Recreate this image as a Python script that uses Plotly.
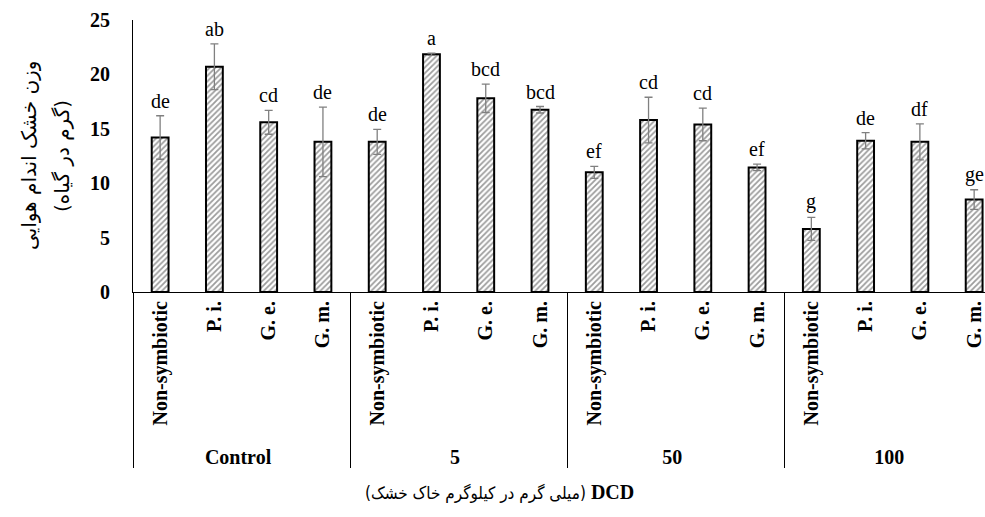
import plotly.graph_objects as go

groups = ["Control", "5", "50", "100"]
treatments = ["Non-symbiotic", "P. i.", "G. e.", "G. m."]
values = [14.2, 20.7, 15.6, 13.8,
          13.8, 21.85, 17.8, 16.75,
          11.0, 15.8, 15.4, 11.45,
          5.8, 13.9, 13.8, 8.5]
errors = [2.0, 2.1, 1.1, 3.2,
          1.15, 0.1, 1.3, 0.3,
          0.55, 2.1, 1.5, 0.3,
          1.05, 0.75, 1.65, 0.9]
letters = ["de", "ab", "cd", "de",
           "de", "a", "bcd", "bcd",
           "ef", "cd", "cd", "ef",
           "g", "de", "df", "ge"]
y_ticks = [0, 5, 10, 15, 20, 25]

x_outer = [g for g in groups for _ in treatments]
x_inner = [t for _ in groups for t in treatments]

serif = "Liberation Serif, Times New Roman, serif"

fig = go.Figure()
fig.add_trace(go.Bar(
    x=[x_outer, x_inner], y=values,
    width=0.31,
    marker=dict(color="white",
                line=dict(color="black", width=2),
                pattern=dict(shape="/", fgcolor="#3a3a3a", bgcolor="white",
                             size=4, solidity=0.45)),
    error_y=dict(type="data", array=errors, visible=True,
                 color="#808080", thickness=1.3, width=4),
    showlegend=False,
    hoverinfo="skip",
))

for i, (v, e, lab) in enumerate(zip(values, errors, letters)):
    fig.add_annotation(x=i, y=v + e, text=lab, showarrow=False,
                       yanchor="bottom", yshift=2,
                       font=dict(family=serif, size=20, color="black"))

fig.add_annotation(xref="paper", yref="paper", x=0, y=0.5, xshift=-104,
                   xanchor="center", yanchor="middle",
                   text="وزن خشک اندام هوایی", textangle=-90, showarrow=False,
                   font=dict(family="DejaVu Sans", size=20, color="black"))
fig.add_annotation(xref="paper", yref="paper", x=0, y=0.5, xshift=-71,
                   xanchor="center", yanchor="middle",
                   text="\u200F(گرم در گیاه)\u200F", textangle=-90, showarrow=False,
                   font=dict(family="DejaVu Sans", size=20, color="black"))
fig.add_annotation(xref="paper", yref="paper", x=0.43, y=0, yshift=-200,
                   xanchor="center", yanchor="middle",
                   text=("<span style=\"font-family:DejaVu Sans Condensed, DejaVu Sans; font-size:17px\">"
                         "(میلی گرم در کیلوگرم خاک خشک)</span> <b>DCD</b>"),
                   showarrow=False,
                   font=dict(family=serif, size=20, color="black"))

fig.update_layout(
    width=985, height=517,
    margin=dict(l=133, r=0, t=20, b=225),
    plot_bgcolor="white", paper_bgcolor="white",
    bargap=0.5,
    xaxis=dict(type="multicategory", range=[-0.5, 15.2],
               showline=True, linecolor="black", linewidth=1.2,
               showgrid=False, ticks="", tickangle=-90,
               tickfont=dict(family=serif, size=20, color="black", weight="bold"),
               showdividers=True, dividercolor="black", dividerwidth=1.2,
               automargin=False),
    yaxis=dict(range=[0, 25], tickvals=y_ticks,
               showline=True, linecolor="black", linewidth=1.2,
               showgrid=False, zeroline=False, ticks="",
               ticklabelstandoff=18,
               tickfont=dict(family=serif, size=20, color="black", weight="bold"),
               automargin=False),
)

fig.write_html("out.html",
               config={"displayModeBar": False},
               post_script="document.body.style.margin='0';document.body.style.overflow='hidden';")
